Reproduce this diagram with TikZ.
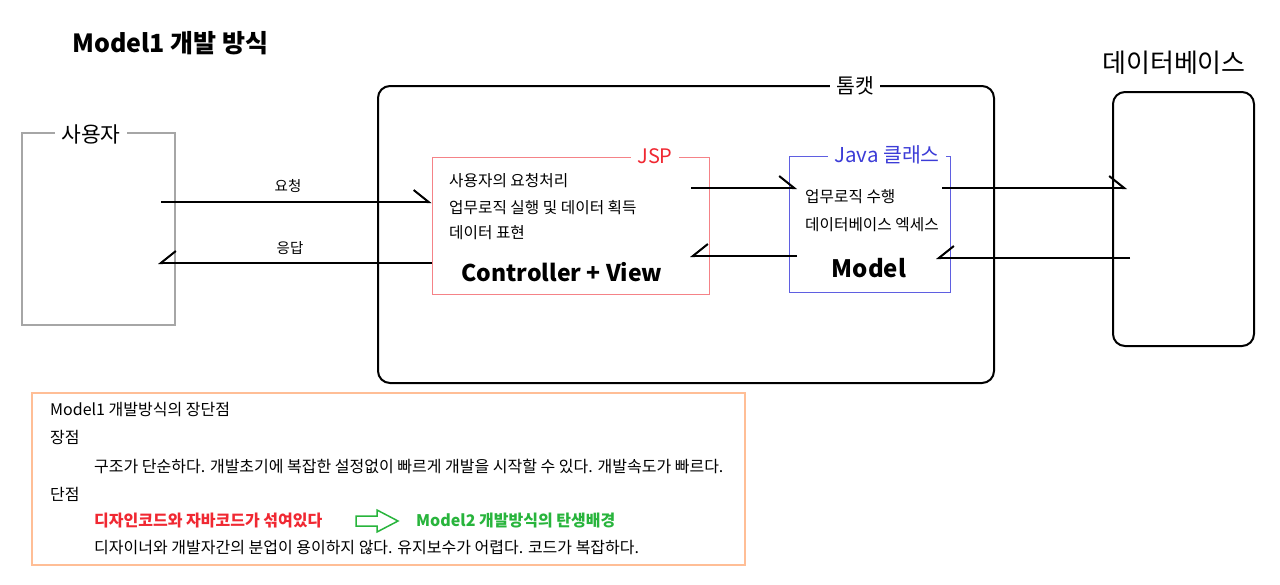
\documentclass[tikz,border=0pt]{standalone}
\usepackage{fontspec}
\setmainfont{Noto Sans CJK KR}
\usetikzlibrary{arrows.meta}

\definecolor{jspred}{RGB}{245,130,135}
\definecolor{jsptxt}{RGB}{240,40,50}
\definecolor{javablue}{RGB}{95,95,225}
\definecolor{javatxt}{RGB}{60,60,215}
\definecolor{notebox}{RGB}{255,190,150}
\definecolor{badred}{RGB}{240,40,50}
\definecolor{goodgreen}{RGB}{40,180,60}

\begin{document}
\begin{tikzpicture}[x=1pt,y=-1pt,
    txt/.style={inner sep=0pt, anchor=west, font=\fontsize{15.7}{18}\selectfont},
    notetxt/.style={inner sep=0pt, anchor=west, font=\fontsize{16}{19}\selectfont},
    notetxtb/.style={inner sep=0pt, anchor=west, font=\fontsize{16}{19}\selectfont\bfseries},
    lbl/.style={fill=white, inner xsep=6pt, inner ysep=0pt},
    harp/.style={line width=2pt, -{Straight Barb[harpoon, length=15pt, width=24pt]}},
    harpback/.style={line width=2pt, -{Straight Barb[harpoon, swap, length=15pt, width=24pt]}}]
    \useasboundingbox (0,0) rectangle (1280,584);

    \node[anchor=west, inner sep=0pt, font=\fontsize{25}{30}\selectfont\bfseries] (title) at (72,43) {Model1 개발 방식};

    % 사용자
    \node[draw=gray!70, line width=1.2pt, minimum width=153pt, minimum height=192pt] (user) at (98.5,229) {};
    \node[lbl, font=\fontsize{21.5}{25}\selectfont] (userlbl) at (91,134) {사용자};

    % 톰캣
    \node[draw, line width=2pt, rounded corners=12pt, minimum width=616pt, minimum height=297pt] (tomcat) at (686,234.5) {};
    \node[lbl, font=\fontsize{20.5}{24}\selectfont] (tomcatlbl) at (855,86) {톰캣};

    % 데이터베이스
    \node[draw, line width=2pt, rounded corners=12pt, minimum width=141pt, minimum height=254pt] (db) at (1183.5,219) {};
    \node[inner sep=0pt, font=\fontsize{26}{30}\selectfont] (dblbl) at (1174,63) {데이터베이스};

    % JSP
    \node[draw=jspred, line width=1pt, minimum width=277pt, minimum height=137pt] (jsp) at (570.5,225.5) {};
    \node[lbl, text=jsptxt, font=\fontsize{20}{24}\selectfont] (jsplbl) at (655,156) {JSP};
    \node[txt] (jsp1) at (449,181) {사용자의 요청처리};
    \node[txt] (jsp2) at (449,208) {업무로직 실행 및 데이터 획득};
    \node[txt] (jsp3) at (449,233) {데이터 표현};
    \node[inner sep=0pt, font=\fontsize{23}{27}\selectfont\bfseries] (cv) at (562,272) {Controller + View};

    % Java 클래스
    \node[draw=javablue, line width=1pt, minimum width=161pt, minimum height=136pt] (java) at (869.5,224) {};
    \node[lbl, text=javatxt, font=\fontsize{20.5}{24}\selectfont] (javalbl) at (887,155) {Java 클래스};
    \node[txt] (java1) at (805,197) {업무로직 수행};
    \node[txt] (java2) at (805,225) {데이터베이스 엑세스};
    \node[inner sep=0pt, font=\fontsize{24}{28}\selectfont\bfseries] (model) at (869,268) {Model};

    % 요청 / 응답
    \coordinate (reqS) at (161,202);
    \coordinate (resE) at (158,263);
    \draw[harp] (reqS) -- (reqS -| jsp.west);
    \draw[harpback] (resE -| jsp.west) -- (resE);
    \node[inner sep=0pt, font=\fontsize{14.5}{17}\selectfont] (reqlbl) at (288,186) {요청};
    \node[inner sep=0pt, font=\fontsize{14.5}{17}\selectfont] (reslbl) at (290,248) {응답};

    % JSP <-> Java <-> DB
    \coordinate (callS) at (691,188);
    \coordinate (callE) at (797,188);
    \coordinate (backS) at (797,256);
    \coordinate (backE) at (690,256);
    \coordinate (dbS) at (942,188);
    \coordinate (dbE) at (1127,188);
    \coordinate (dbrS) at (1130,258);
    \coordinate (dbrE) at (936,258);
    \draw[harp] (callS) -- (callE);
    \draw[harpback] (backS) -- (backE);
    \draw[harp] (dbS) -- (dbE);
    \draw[harpback] (dbrS) -- (dbrE);

    % 장단점
    \node[draw=notebox, line width=1.2pt, minimum width=713pt, minimum height=172pt] (note) at (388.5,479) {};
    \node[notetxt] (n1) at (50,410) {Model1 개발방식의 장단점};
    \node[notetxt] (n2) at (50,437) {장점};
    \node[notetxt] (n3) at (94,466) {구조가 단순하다. 개발초기에 복잡한 설정없이 빠르게 개발을 시작할 수 있다. 개발속도가 빠르다.};
    \node[notetxt] (n4) at (50,494) {단점};
    \node[notetxtb, text=badred] (n5) at (94,521) {디자인코드와 자바코드가 섞여있다};
    \draw[goodgreen, line width=1.5pt] (356,516) -- (377,516) -- (377,510) -- (398,521)
        -- (377,532) -- (377,526) -- (356,526) -- cycle;
    \node[notetxtb, text=goodgreen] (n6) at (416,521) {Model2 개발방식의 탄생배경};
    \node[notetxt] (n7) at (94,548) {디자이너와 개발자간의 분업이 용이하지 않다. 유지보수가 어렵다. 코드가 복잡하다.};
\end{tikzpicture}
\end{document}
